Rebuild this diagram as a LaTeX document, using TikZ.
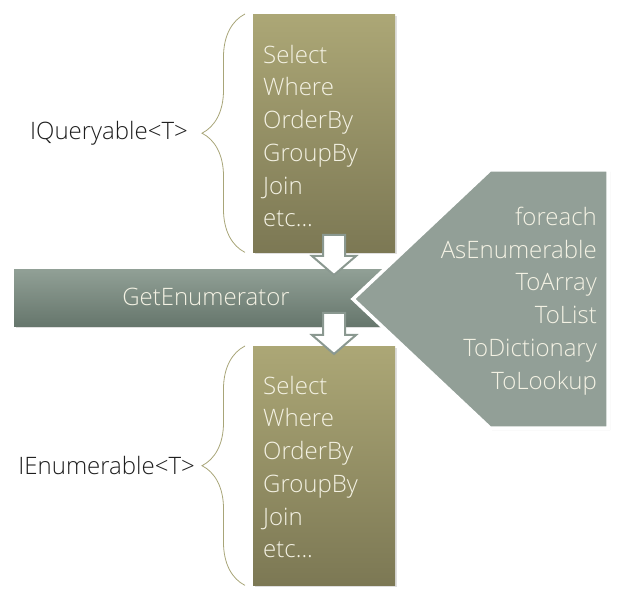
\documentclass[tikz,border=0pt]{standalone}
\usepackage{fontspec}
\setmainfont{Open Sans Light}
\usetikzlibrary{shadows,decorations.pathreplacing,positioning}

\definecolor{olivetop}{RGB}{172,167,118}
\definecolor{olivebot}{RGB}{124,120,84}
\definecolor{bartop}{RGB}{145,160,150}
\definecolor{barbot}{RGB}{102,118,108}
\definecolor{sage}{RGB}{146,159,151}
\definecolor{arrowline}{RGB}{138,152,144}
\definecolor{bracecol}{RGB}{168,165,120}
\definecolor{boxtext}{RGB}{244,242,228}
\definecolor{labeltext}{RGB}{30,30,30}

\tikzset{
  opbox/.style={top color=olivetop, bottom color=olivebot, inner sep=0pt,
    minimum width=142pt, anchor=north west,
    drop shadow={shadow xshift=2pt, shadow yshift=-2pt, opacity=0.25}},
  bar/.style={top color=bartop, bottom color=barbot, inner sep=0pt,
    minimum width=400pt, minimum height=57pt, anchor=north west,
    drop shadow={shadow xshift=2pt, shadow yshift=-2pt, opacity=0.25}},
  optext/.style={text=boxtext, align=left, inner sep=0pt,
    font=\fontsize{24}{32.7}\selectfont},
  convtext/.style={text=boxtext, align=right, inner sep=0pt,
    font=\fontsize{24}{32.7}\selectfont},
  iface/.style={text=labeltext, inner sep=0pt, font=\fontsize{24}{28}\selectfont},
  curly/.style={draw=bracecol, line width=0.8pt, decorate,
    decoration={brace, amplitude=43pt}},
  pent/.style={fill=sage, draw=white, line width=3.5pt, line join=miter,
    drop shadow={shadow xshift=2pt, shadow yshift=-2pt, opacity=0.3}},
  blockarrow/.style={fill=white, draw=arrowline, line width=2pt, line join=miter}
}

\newcommand{\dnarrow}[3]{% x, y of shaft top left, shaft height
  \draw[blockarrow] (#1,#2) -- ++(22,0) -- ++(0,#3) -- ++(11,0)
    -- ++(-22,19) -- ++(-22,-19) -- ++(11,0) -- cycle;
}

\begin{document}
\begin{tikzpicture}[x=1pt,y=-1pt]
\useasboundingbox (0,0) rectangle (625,599);

% operator boxes
\node[opbox, minimum height=238pt] (qbox) at (253,14) {};
\node[opbox, minimum height=239pt] (ebox) at (253,346) {};
\node[optext, anchor=west] (qlist) at (263,136)
  {Select\\Where\\OrderBy\\GroupBy\\Join\\etc...};
\node[optext, anchor=west] (elist) at (263,467)
  {Select\\Where\\OrderBy\\GroupBy\\Join\\etc...};

% braces and interface names
\draw[curly] ([xshift=-8pt]qbox.south west) -- ([xshift=-8pt]qbox.north west);
\draw[curly] ([xshift=-8pt]ebox.south west) -- ([xshift=-8pt]ebox.north west);
\coordinate (qtip) at ([xshift=-51pt]qbox.west);
\coordinate (etip) at ([xshift=-51pt]ebox.west);
\node[iface, left=14pt of qtip] (qname) {IQueryable<T>};
\node[iface, left=7pt of etip] (ename) {IEnumerable<T>};

% enumerator bar
\node[bar] (getbar) at (14,269) {};
\node[optext] (getenum) at (206,297) {GetEnumerator};

% converting operators
\draw[pent] (353,299) -- (490,170) -- (608,170) -- (608,428) -- (490,428) -- cycle;
\node[convtext, anchor=east] (conv) at (597,301)
  {foreach\\AsEnumerable\\ToArray\\ToList\\ToDictionary\\ToLookup};

% arrows
\dnarrow{323}{235}{21}
\dnarrow{323}{313}{22}
\end{tikzpicture}
\end{document}
